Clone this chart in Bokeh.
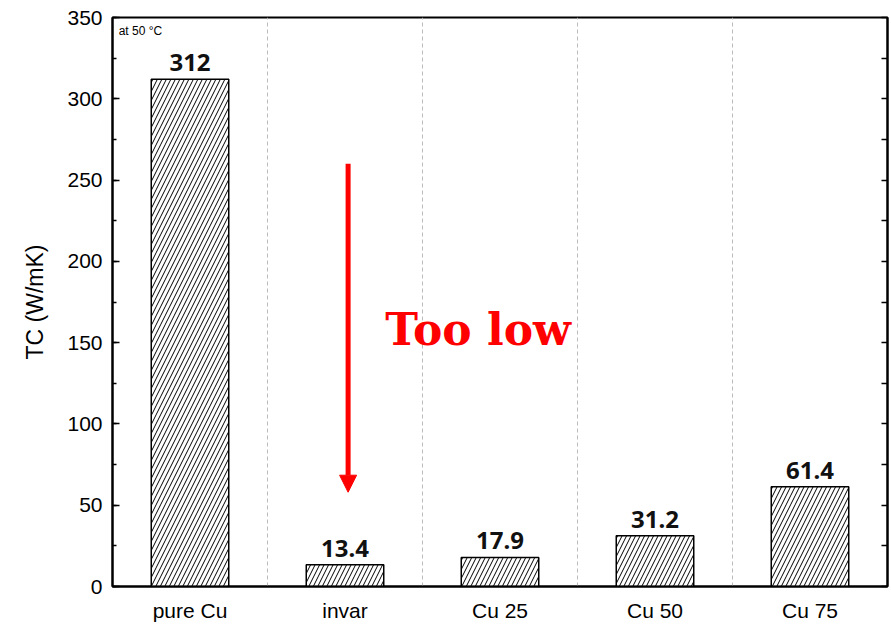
from bokeh.plotting import figure
from bokeh.models import (ColumnDataSource, Range1d, FixedTicker, SingleIntervalTicker,
                          LinearAxis, Arrow, NormalHead, Label)
from bokeh.core.properties import value
from bokeh.embed import file_html
from bokeh.resources import INLINE

# Thermal conductivity at 50 °C
categories = ["pure Cu", "invar", "Cu 25", "Cu 50", "Cu 75"]
tc_values = [312, 13.4, 17.9, 31.2, 61.4]
value_labels = ["312", "13.4", "17.9", "31.2", "61.4"]

x_pos = [i + 0.5 for i in range(len(categories))]
src = ColumnDataSource(dict(x=x_pos, top=tc_values, label=value_labels))

p = figure(width=891, height=624, output_backend="svg", toolbar_location=None,
           x_range=Range1d(0, len(categories)), y_range=Range1d(0, 350),
           min_border_left=112, min_border_right=4, min_border_top=17, min_border_bottom=36)

p.outline_line_color = "black"
p.outline_line_width = 2
p.background_fill_color = "white"
p.border_fill_color = "white"

# bars with diagonal hatching
p.vbar(x="x", top="top", width=0.5, bottom=0, source=src,
       fill_color="white", line_color="black", line_width=1.5,
       hatch_pattern="/", hatch_color="black", hatch_scale=9, hatch_weight=1)

p.text(x="x", y="top", text="label", source=src, text_align="center",
       text_baseline="bottom", y_offset=-8,
       text_font=value("Noto Sans"),
       text_font_size="24px", text_font_style="bold", text_color="#111111")

# x axis
p.xaxis.ticker = FixedTicker(ticks=x_pos)
p.xaxis.major_label_overrides = {x: c for x, c in zip(x_pos, categories)}
p.xaxis.major_tick_line_color = None
p.xaxis.minor_tick_line_color = None
p.xaxis.axis_line_width = 2
p.xaxis.major_label_text_font = "Liberation Sans"
p.xaxis.major_label_text_font_size = "21px"
p.xaxis.major_label_text_color = "black"
p.xaxis.major_label_standoff = 6

# y axis
p.yaxis.ticker = SingleIntervalTicker(interval=50, num_minor_ticks=2)
p.yaxis.major_tick_in = 7
p.yaxis.major_tick_out = 0
p.yaxis.minor_tick_in = 4
p.yaxis.minor_tick_out = 0
p.yaxis.major_tick_line_width = 1.5
p.yaxis.minor_tick_line_width = 1.5
p.yaxis.axis_line_width = 2
p.yaxis.axis_label = "TC (W/mK)"
p.yaxis.axis_label_text_font = "Liberation Sans"
p.yaxis.axis_label_text_font_size = "23px"
p.yaxis.axis_label_text_font_style = "normal"
p.yaxis.axis_label_text_color = "black"
p.yaxis.axis_label_standoff = 16
p.yaxis.major_label_text_font = "Liberation Sans"
p.yaxis.major_label_text_font_size = "21px"
p.yaxis.major_label_text_color = "black"
p.yaxis.major_label_standoff = 10

# right frame axis: inward ticks, no labels
right_ticks = list(range(0, 351, 25))
right = LinearAxis(ticker=FixedTicker(ticks=right_ticks),
                   major_label_overrides={t: "" for t in right_ticks},
                   major_tick_in=6, major_tick_out=0,
                   axis_line_width=2, major_tick_line_width=1.5)
p.add_layout(right, "right")

# grid: dashed separators between groups only
p.ygrid.grid_line_color = None
p.xgrid.ticker = FixedTicker(ticks=[1, 2, 3, 4])
p.xgrid.grid_line_color = "#bbbbbb"
p.xgrid.grid_line_dash = "4 3"
p.xgrid.grid_line_width = 1

# annotations
p.add_layout(Label(x=0.04, y=342, text="at 50   °C", text_font="Liberation Sans",
                   text_font_size="12px", text_color="black", text_baseline="middle"))
p.add_layout(Arrow(x_start=1.52, y_start=260, x_end=1.52, y_end=58,
                   line_color="red", line_width=5,
                   end=NormalHead(size=17, fill_color="red", line_color="red", line_width=1)))
p.add_layout(Label(x=1.76, y=158, text="Too low", text_font="DejaVu Serif",
                   text_font_size="44px", text_font_style="bold", text_color="red",
                   text_baseline="middle"))

open("out.html", "w").write(file_html(p, INLINE))
